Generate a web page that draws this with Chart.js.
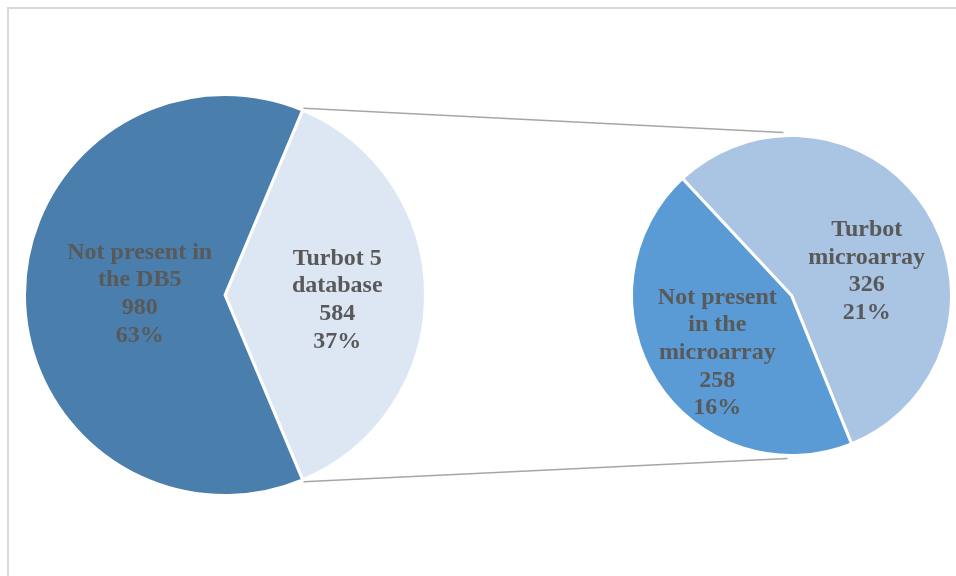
<!DOCTYPE html>
<html>
<head>
<meta charset="utf-8">
<script src="https://cdn.jsdelivr.net/npm/chart.js@4"></script>
<style>
  body { margin: 0; background: #fff; }
  #wrap { position: relative; width: 956px; height: 576px; overflow: hidden; }
  #frame { position: absolute; left: 7px; top: 7px; width: 1000px; height: 1000px; border: 2px solid #d9d9d9; }
  #lines { position: absolute; left: 0; top: 0; }
  .pie { position: absolute; }
  #leftBox { left: 23px; top: 93px; width: 404px; height: 404px; }
  #rightBox { left: 630px; top: 134px; width: 323px; height: 323px; }
</style>
</head>
<body>
<div id="wrap">
  <div id="frame"></div>
  <canvas id="lines" width="956" height="576"></canvas>
  <div class="pie" id="leftBox"><canvas id="leftPie"></canvas></div>
  <div class="pie" id="rightBox"><canvas id="rightPie"></canvas></div>
</div>
<script>
// main pie
const mainLabels = [['Turbot 5', 'database'], ['Not present in', 'the DB5']];
const mainValues = [584, 980];
const mainColors = ['#dde6f3', '#4a7ead'];

// secondary pie (split of the Turbot 5 database slice)
const subLabels = [['Turbot', 'microarray'], ['Not present', 'in the', 'microarray']];
const subValues = [326, 258];
const subColors = ['#aac4e4', '#5b9bd5'];

const total = mainValues.reduce((a, b) => a + b, 0);

// label nudges in px, relative to the slice centroid
const mainNudge = [[2, 5], [25, -1]];
const subNudge = [[1, 23], [0, 10]];

const sliceText = {
    id: 'sliceText',
    afterDatasetsDraw(chart, args, opts) {
        const ctx = chart.ctx;
        const meta = chart.getDatasetMeta(0);
        const values = chart.data.datasets[0].data;
        ctx.save();
        ctx.font = 'bold 24px "Liberation Serif", "Times New Roman", serif';
        ctx.fillStyle = '#595959';
        ctx.textAlign = 'center';
        ctx.textBaseline = 'middle';
        meta.data.forEach((arc, i) => {
            const mid = (arc.startAngle + arc.endAngle) / 2;
            const r = arc.outerRadius * 0.55;
            const x = arc.x + Math.cos(mid) * r + opts.nudge[i][0];
            const y = arc.y + Math.sin(mid) * r + opts.nudge[i][1];
            const lines = opts.labels[i].concat([String(values[i]), Math.round(values[i] / total * 100) + '%']);
            const lh = 27.7;
            const top = y - (lines.length - 1) * lh / 2;
            lines.forEach((t, j) => ctx.fillText(t, x, top + j * lh));
        });
        ctx.restore();
    }
};

function pieOptions(rotation, labels, nudge) {
    return {
        responsive: true,
        maintainAspectRatio: false,
        animation: false,
        rotation: rotation,
        layout: { padding: 0 },
        plugins: {
            legend: { display: false },
            tooltip: { enabled: false },
            sliceText: { labels: labels, nudge: nudge }
        }
    };
}

const leftChart = new Chart(document.getElementById('leftPie'), {
    type: 'pie',
    data: {
        labels: mainLabels.map(l => l.join(' ')),
        datasets: [{ data: mainValues, backgroundColor: mainColors, borderColor: '#ffffff', borderWidth: 3 }]
    },
    options: pieOptions(90 - mainValues[0] / total * 180, mainLabels, mainNudge),
    plugins: [sliceText]
});

const rightChart = new Chart(document.getElementById('rightPie'), {
    type: 'pie',
    data: {
        labels: subLabels.map(l => l.join(' ')),
        datasets: [{ data: subValues, backgroundColor: subColors, borderColor: '#ffffff', borderWidth: 3 }]
    },
    options: pieOptions(317, subLabels, subNudge),
    plugins: [sliceText]
});

// connector lines between the split slice and the second pie
function drawConnectors() {
    const cv = document.getElementById('lines');
    const ctx = cv.getContext('2d');
    const wrapRect = document.getElementById('wrap').getBoundingClientRect();
    const lRect = leftChart.canvas.getBoundingClientRect();
    const rRect = rightChart.canvas.getBoundingClientRect();
    const arc = leftChart.getDatasetMeta(0).data[0];
    const sub = rightChart.getDatasetMeta(0).data[0];
    if (!arc || !sub) return;
    const lx = lRect.left - wrapRect.left, ly = lRect.top - wrapRect.top;
    const rx = rRect.left - wrapRect.left, ry = rRect.top - wrapRect.top;
    const r = arc.outerRadius + 2;
    const p1 = [lx + arc.x + Math.cos(arc.startAngle) * r, ly + arc.y + Math.sin(arc.startAngle) * r];
    const p2 = [lx + arc.x + Math.cos(arc.endAngle) * r, ly + arc.y + Math.sin(arc.endAngle) * r];
    const q1 = [rx + sub.x - 8, ry + sub.y - sub.outerRadius - 3];
    const q2 = [rx + sub.x - 4, ry + sub.y + sub.outerRadius + 3];
    ctx.clearRect(0, 0, cv.width, cv.height);
    ctx.strokeStyle = '#a6a6a6';
    ctx.lineWidth = 1.5;
    ctx.beginPath();
    ctx.moveTo(p1[0], p1[1]); ctx.lineTo(q1[0], q1[1]);
    ctx.moveTo(p2[0], p2[1]); ctx.lineTo(q2[0], q2[1]);
    ctx.stroke();
}
drawConnectors();
</script>
</body>
</html>
